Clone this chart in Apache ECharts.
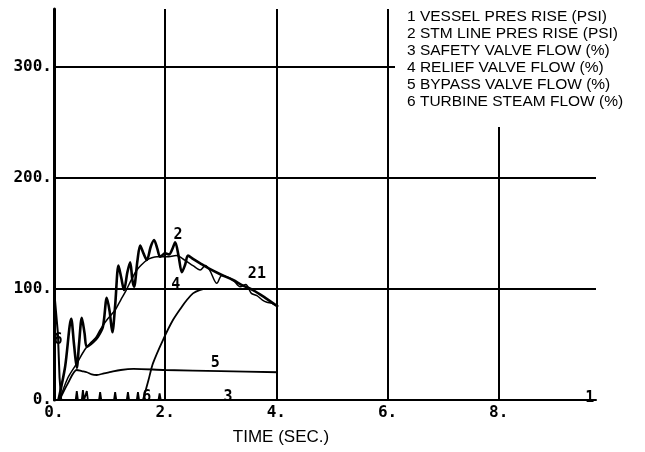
<!DOCTYPE html>
<html>
<head>
<meta charset="utf-8">
<script src="https://cdn.jsdelivr.net/npm/echarts@6/dist/echarts.min.js"></script>
<style>
html,body{margin:0;padding:0;background:#fff;}
#chart{width:645px;height:452px;}
</style>
</head>
<body>
<div id="chart"></div>
<script>
// ---- data (time in seconds, value in psi or %) ----
const xTicks = [0, 2, 4, 6, 8];
const yTicks = [0, 100, 200, 300];

// 1 VESSEL PRES RISE (PSI)
const t1 = [0.10, 0.25, 0.41, 0.55, 0.65, 0.75, 0.83, 0.95, 1.10, 1.20, 1.30, 1.40, 1.49, 1.58, 1.67, 1.76, 1.85, 2.03, 2.20, 2.35, 2.50, 2.63, 2.72, 2.80, 2.93, 3.02, 3.22, 3.35, 3.45, 3.55, 3.65, 3.75, 3.83, 3.92, 4.03];
const v1 = [0, 20, 33, 45, 51, 56, 63, 72, 81, 90, 99, 109, 117, 122, 126, 128, 129, 129, 130, 126, 121, 117, 121, 117, 105, 112, 108, 102, 104, 96, 94, 90, 88, 87, 84];

// 2 STM LINE PRES RISE (PSI)
const t2 = [0.08, 0.20, 0.31, 0.36, 0.41, 0.45, 0.50, 0.55, 0.59, 0.70, 0.79, 0.88, 0.95, 1.00, 1.05, 1.10, 1.16, 1.21, 1.26, 1.32, 1.37, 1.41, 1.44, 1.50, 1.55, 1.61, 1.67, 1.74, 1.80, 1.86, 1.91, 2.00, 2.07, 2.13, 2.18, 2.24, 2.30, 2.36, 2.41, 2.50, 2.63, 2.80, 3.00, 3.22, 3.40, 3.58, 3.80, 4.03];
const v2 = [0, 30, 73, 50, 29, 50, 74, 60, 48, 52, 57, 66, 92, 80, 61, 85, 121, 110, 99, 115, 124, 108, 102, 125, 139, 132, 126, 138, 144, 136, 129, 132, 131, 136, 142, 130, 115, 122, 130, 127, 123, 118, 113, 108, 103, 99, 92, 84];

// 3 SAFETY VALVE FLOW (%)
const t3 = [0.00, 0.39, 0.41, 0.43, 0.50, 0.52, 0.54, 0.57, 0.59, 0.61, 0.81, 0.83, 0.85, 1.08, 1.10, 1.12, 1.31, 1.33, 1.35, 1.49, 1.51, 1.53, 1.88, 1.90, 1.92, 4.00];
const v3 = [0, 0, 8, 0, 0, 9, 0, 0, 8, 0, 0, 7, 0, 0, 7, 0, 0, 7, 0, 0, 7, 0, 0, 6, 0, 0];

// 4 RELIEF VALVE FLOW (%)
const t4 = [1.60, 1.70, 1.78, 1.96, 2.14, 2.30, 2.39, 2.50, 2.62, 2.75, 3.00, 4.00];
const v4 = [0, 18, 33, 54, 72, 84, 90, 96, 99, 100, 100, 100];

// 5 BYPASS VALVE FLOW (%)
const t5 = [0.10, 0.25, 0.41, 0.50, 0.59, 0.68, 0.77, 0.90, 1.00, 1.20, 1.43, 2.00, 3.00, 4.03];
const v5 = [0, 15, 27, 26, 25, 23, 22.5, 24, 25, 27, 28, 27, 26, 25];

// 6 TURBINE STEAM FLOW (%)
const t6 = [0.00, 0.03, 0.07, 0.10, 0.13, 4.00];
const v6 = [100, 100, 60, 20, 0, 0];

// curve identification labels drawn on the plot
const curveLabelText = ['2', '21', '4', '5', '3', '6', '6', '1'];
const curveLabelT = [2.23, 3.65, 2.19, 2.90, 3.13, 1.67, 0.07, 9.64];
const curveLabelV = [148, 113, 103, 33, 3, 3, 54, 2];

const legendLines = [
  '1 VESSEL PRES RISE (PSI)',
  '2 STM LINE PRES RISE (PSI)',
  '3 SAFETY VALVE FLOW (%)',
  '4 RELIEF VALVE FLOW (%)',
  '5 BYPASS VALVE FLOW (%)',
  '6 TURBINE STEAM FLOW (%)'
];
const xTitle = 'TIME (SEC.)';

// ---- build ----
const pairs = (t, v) => t.map((x, i) => [x, v[i]]);
const plotFont = 'DejaVu Sans Mono';

function curve(name, t, v, width, smooth) {
  return {
    name: name, type: 'line', data: pairs(t, v), symbol: 'none',
    smooth: smooth, lineStyle: { color: '#000', width: width }, z: 3
  };
}

const chart = echarts.init(document.getElementById('chart'), null, { renderer: 'canvas' });
chart.setOption({
  animation: false,
  backgroundColor: '#fff',
  grid: { left: 54, right: 49, top: 9, bottom: 52 },
  xAxis: {
    type: 'value', min: 0, max: 9.75, interval: 2,
    axisLine: { show: true, lineStyle: { color: '#000', width: 2 } },
    axisTick: { show: false },
    axisLabel: {
      showMaxLabel: false, margin: 5, color: '#000',
      fontFamily: plotFont, fontWeight: 'bold', fontSize: 16,
      formatter: v => xTicks.includes(v) ? v + '.' : ''
    },
    splitLine: { show: true, showMinLine: false, showMaxLine: false, lineStyle: { color: '#000', width: 2 } }
  },
  yAxis: {
    type: 'value', min: 0, max: 352, interval: 100,
    axisLine: { show: true, lineStyle: { color: '#000', width: 3 } },
    axisTick: { show: false },
    axisLabel: {
      showMaxLabel: false, margin: 2, color: '#000',
      fontFamily: plotFont, fontWeight: 'bold', fontSize: 16,
      formatter: v => yTicks.includes(v) ? v + '.' : ''
    },
    splitLine: { show: true, showMinLine: false, showMaxLine: false, lineStyle: { color: '#000', width: 2 } }
  },
  graphic: [
    { type: 'rect', left: 395, top: 0, z: 10, shape: { width: 250, height: 127 }, style: { fill: '#fff' } },
    {
      type: 'text', left: 407, top: 8, z: 11,
      style: {
        text: legendLines.join('\n'), fill: '#000',
        font: '15.5px "Liberation Sans", Arial, sans-serif', lineHeight: 17
      }
    },
    {
      type: 'text', x: 281, y: 437, z: 11,
      style: {
        text: xTitle, fill: '#000', align: 'center', verticalAlign: 'middle',
        font: '17px "Liberation Sans", Arial, sans-serif'
      }
    }
  ],
  series: [
    curve('1', t1, v1, 1.5, 0.3),
    curve('2', t2, v2, 2.6, 0.3),
    curve('3', t3, v3, 1.8, false),
    curve('4', t4, v4, 1.8, 0.3),
    curve('5', t5, v5, 1.8, 0.3),
    curve('6', t6, v6, 2, false),
    {
      type: 'scatter', symbolSize: 0, z: 4,
      itemStyle: { opacity: 1 },
      data: curveLabelText.map((s, i) => ({ name: s, value: [curveLabelT[i], curveLabelV[i]] })),
      label: {
        show: true, position: 'inside', formatter: p => p.name, color: '#000', opacity: 1,
        fontFamily: plotFont, fontWeight: 'bold', fontSize: 15
      }
    }
  ]
});
</script>
</body>
</html>
